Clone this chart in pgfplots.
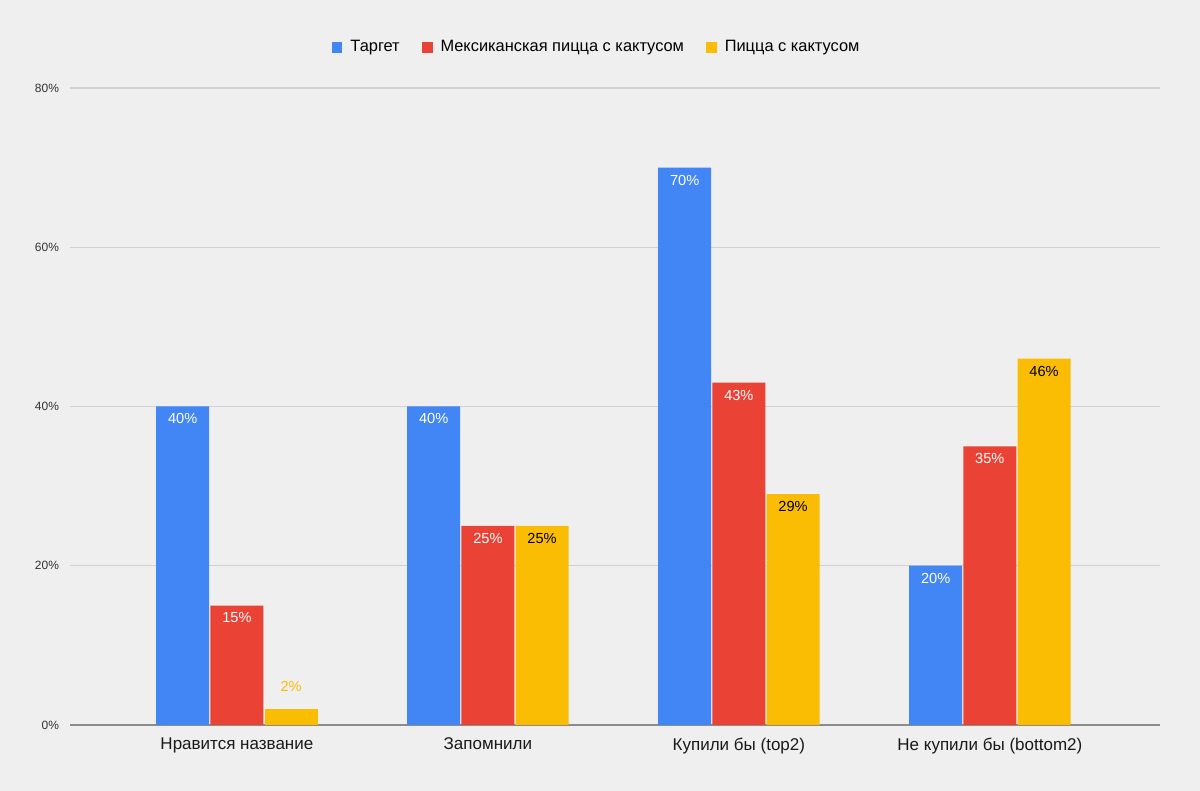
\documentclass[border=0pt]{standalone}
\usepackage{pgfplots}
\pgfplotsset{compat=1.18}
\usepackage{fontspec}
\setmainfont{Liberation Sans}
\definecolor{bg}{RGB}{239,239,239}
\definecolor{cblue}{HTML}{4285F4}
\definecolor{cred}{HTML}{EA4335}
\definecolor{cyellow}{HTML}{FBBC04}
\begin{document}
\begin{tikzpicture}
\fill[bg] (-35pt,-33pt) rectangle (565pt,362.5pt);
\begin{axis}[
  at={(0,0)}, anchor=south west,
  scale only axis, width=545pt, height=318.5pt,
  xmin=-0.665, xmax=3.678, ymin=0, ymax=80,
  ybar=0pt, bar width=0.211,
  axis line style={draw=none},
  xtick={0,1,2,3},
  xticklabels={Нравится название, Запомнили, Купили бы (top2), Не купили бы (bottom2)},
  ytick={0,20,40,60,80},
  yticklabels={0\%,20\%,40\%,60\%,80\%},
  major tick length=0pt,
  ymajorgrids,
  grid style={draw=black!18, line width=0.6pt},
  extra y ticks={0}, extra y tick labels={},
  extra y tick style={grid style={draw=black!45, line width=0.9pt}},
  xticklabel style={font=\fontsize{8.5}{10}\selectfont, text=black!90, yshift=-3pt},
  yticklabel style={font=\fontsize{6}{7}\selectfont, text=black!80, xshift=-2pt},
  legend style={at={(0.484,1.064)}, anchor=center, draw=none, fill=none,
    legend columns=-1, font=\fontsize{8.2}{9.5}\selectfont,
    /tikz/every odd column/.append style={column sep=2pt},
    /tikz/every even column/.append style={column sep=9pt}},
  legend image code/.code={\fill[#1] (0pt,-2.7pt) rectangle (5.4pt,2.7pt);},
  nodes near coords={\pgfmathprintnumber[assume math mode=true]{\pgfplotspointmeta}\%},
  every node near coord/.append style={font=\fontsize{7.3}{9}\selectfont, anchor=center, yshift=-6.2pt},
]
\addplot[fill=cblue, draw=none, bar shift=-0.216, nodes near coords style={text=white}]
  coordinates {(0,40) (1,40) (2,70) (3,20)};
\addlegendentry{Таргет}
\addplot[fill=cred, draw=none, bar shift=0, nodes near coords style={text=white}]
  coordinates {(0,15) (1,25) (2,43) (3,35)};
\addlegendentry{Мексиканская пицца с кактусом}
\addplot[fill=cyellow, draw=none, bar shift=0.216, nodes near coords style={text=black}]
  coordinates {(1,25) (2,29) (3,46)};
\addlegendentry{Пицца с кактусом}
\addplot[fill=cyellow, draw=none, bar shift=0.216, forget plot,
  nodes near coords style={text=cyellow, yshift=17.7pt}]
  coordinates {(0,2)};
\end{axis}
\end{tikzpicture}
\end{document}
